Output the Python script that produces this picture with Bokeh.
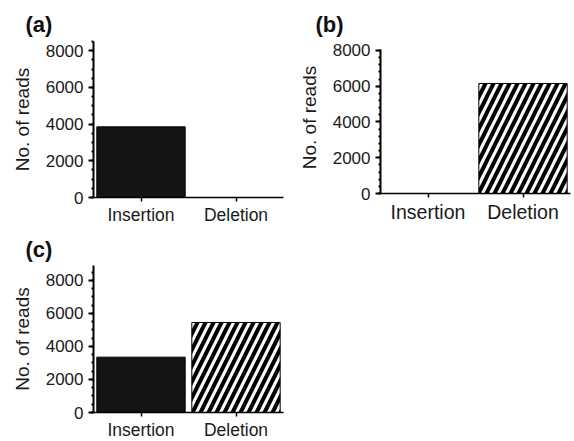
from bokeh.plotting import figure
from bokeh.models import ColumnDataSource, FactorRange, Range1d, SingleIntervalTicker
from bokeh.layouts import column, row
from bokeh.embed import file_html
from bokeh.resources import INLINE

categories = ["Insertion", "Deletion"]
reads_a = [3850, 0]
reads_b = [0, 6150]
reads_c = [3350, 5450]
panel_labels = ["(a)", "(b)", "(c)"]
y_label = "No. of reads"

FONT = "Liberation Sans"
fills = ["#141414", "white"]
hatches = [" ", "/"]


def panel(title, values, fw, fh, bl, br, bt, bb, ytop, ybound, minor, xfs, title_off, title_sd):
    p = figure(x_range=FactorRange(*categories, range_padding=0),
               y_range=Range1d(0, ytop),
               frame_width=fw, frame_height=fh, output_backend="svg",
               toolbar_location=None, title=title,
               min_border_left=bl, min_border_right=br,
               min_border_top=bt, min_border_bottom=bb)
    src = ColumnDataSource(dict(cat=categories, val=values, fill=fills, hatch=hatches))
    p.vbar(x="cat", top="val", width=0.93, source=src, fill_color="fill",
           line_color="black", line_width=1, hatch_pattern="hatch",
           hatch_color="black", hatch_weight=4, hatch_scale=16)
    p.title.text_font = FONT
    p.title.text_font_size = "22px"
    p.title.text_font_style = "bold"
    p.title.text_color = "#111111"
    p.title.align = "left"
    p.title.offset = title_off
    p.title.standoff = title_sd
    p.outline_line_color = None
    p.xgrid.grid_line_color = None
    p.ygrid.grid_line_color = None
    p.background_fill_color = "white"
    p.border_fill_color = "white"

    ya = p.yaxis[0]
    ya.ticker = SingleIntervalTicker(interval=2000, num_minor_ticks=minor)
    ya.bounds = (0, ybound)
    ya.axis_label = y_label
    ya.axis_label_text_font = FONT
    ya.axis_label_text_font_size = "19px"
    ya.axis_label_text_font_style = "normal"
    ya.axis_label_text_color = "#1a1a1a"
    ya.axis_label_standoff = 10
    ya.major_label_text_font = FONT
    ya.major_label_text_font_size = "17px"
    ya.major_label_text_color = "#1a1a1a"
    ya.major_label_standoff = 5
    ya.axis_line_width = 2
    ya.axis_line_color = "black"
    ya.major_tick_out = 5
    ya.major_tick_in = 0
    ya.major_tick_line_width = 2
    ya.minor_tick_out = 2
    ya.minor_tick_in = 0
    ya.minor_tick_line_width = 2

    xa = p.xaxis[0]
    xa.major_label_text_font = FONT
    xa.major_label_text_font_size = xfs
    xa.major_label_text_color = "#1a1a1a"
    xa.major_label_standoff = 3
    xa.axis_line_width = 1.5
    xa.axis_line_color = "black"
    xa.major_tick_out = 4
    xa.major_tick_in = 0
    xa.major_tick_line_width = 1.5
    return p


pa = panel(panel_labels[0], reads_a, 190, 156, 93, 7, 41, 30, 8500, 8500, 4, "17.5px", -68, 9)
pb = panel(panel_labels[1], reads_b, 190, 152, 90, 2, 41, 30, 8500, 8050, 5, "19.5px", -65, 9)
pc = panel(panel_labels[2], reads_c, 190, 147, 93, 7, 38, 29, 8900, 8900, 4, "17.5px", -68, 7)

layout = column(row(pa, pb), pc)
open("out.html", "w").write(file_html(layout, INLINE))
